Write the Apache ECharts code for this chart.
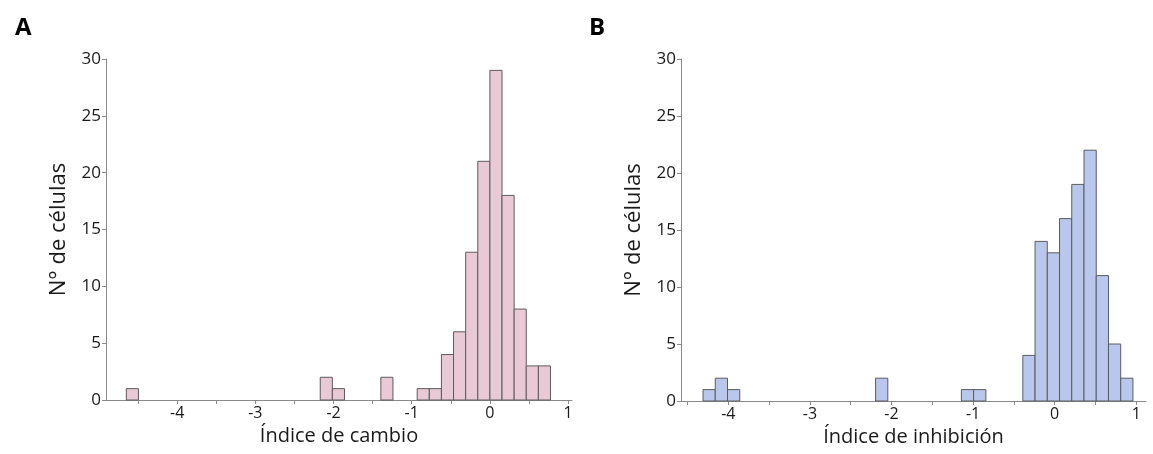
<!DOCTYPE html>
<html>
<head>
<meta charset="utf-8">
<script src="https://cdn.jsdelivr.net/npm/echarts@6/dist/echarts.min.js"></script>
<style>
html,body{margin:0;padding:0;background:#fff;}
#chart{width:1153px;height:454px;}
</style>
</head>
<body>
<div id="chart"></div>
<script>
// Panel A: bin left edges, bin right edges, counts
const binLeftA  = [-4.65, -2.17, -2.015, -1.395, -0.93, -0.775, -0.62, -0.465, -0.31, -0.155, 0.0, 0.155, 0.31, 0.465, 0.62];
const binRightA = [-4.495, -2.015, -1.86, -1.24, -0.775, -0.62, -0.465, -0.31, -0.155, 0.0, 0.155, 0.31, 0.465, 0.62, 0.775];
const countsA   = [1, 2, 1, 2, 1, 1, 4, 6, 13, 21, 29, 18, 8, 3, 3];

// Panel B
const binLeftB  = [-4.31, -4.16, -4.01, -2.195, -1.143, -0.993, -0.39, -0.24, -0.09, 0.06, 0.21, 0.36, 0.51, 0.66, 0.81];
const binRightB = [-4.16, -4.01, -3.86, -2.045, -0.993, -0.843, -0.24, -0.09, 0.06, 0.21, 0.36, 0.51, 0.66, 0.81, 0.96];
const countsB   = [1, 2, 1, 2, 1, 1, 4, 14, 13, 16, 19, 22, 11, 5, 2];

const xLabelValues = [-4, -3, -2, -1, 0, 1];
const xTickValues  = [-4.5, -4, -3.5, -3, -2.5, -2, -1.5, -1, -0.5, 0, 0.5, 1];

const panelTitles = ['A', 'B'];
const xNames = ['Índice de cambio', 'Índice de inhibición'];
const yName = 'N° de células';

const FONT = '"Open Sans", "Noto Sans", sans-serif';
const axisColor = '#8a8a8a';
const textColor = '#1a1a1a';

function mkData(l, r, c) { return l.map((v, i) => [v, r[i], c[i]]); }

function renderBar(params, api) {
  const p0 = api.coord([api.value(0), 0]);
  const p1 = api.coord([api.value(1), api.value(2)]);
  return {
    type: 'rect',
    shape: { x: p0[0], y: p1[1], width: p1[0] - p0[0], height: p0[1] - p1[1] },
    style: api.style()
  };
}

function xAxis(idx, min, max) {
  return {
    type: 'value', gridIndex: idx, min: min, max: max,
    name: xNames[idx], nameLocation: 'middle', nameGap: 26,
    nameTextStyle: { fontSize: 20, color: textColor, fontFamily: FONT },
    axisLine: { show: true, onZero: false, lineStyle: { color: axisColor, width: 1 } },
    axisTick: { show: true, length: 4, customValues: xTickValues, lineStyle: { color: axisColor } },
    axisLabel: { customValues: xLabelValues, fontSize: 16, color: textColor, fontFamily: FONT, margin: 5 },
    splitLine: { show: false }
  };
}
function yAxis(idx) {
  return {
    type: 'value', gridIndex: idx, min: 0, max: 30, interval: 5,
    name: yName, nameLocation: 'middle', nameGap: 36, nameRotate: 90,
    nameTextStyle: { fontSize: 22, color: textColor, fontFamily: FONT },
    axisLine: { show: true, onZero: false, lineStyle: { color: axisColor, width: 1 } },
    axisTick: { show: true, length: 4, lineStyle: { color: axisColor } },
    axisLabel: { fontSize: 17, color: textColor, fontFamily: FONT, margin: 5 },
    splitLine: { show: false }
  };
}

const chart = echarts.init(document.getElementById('chart'), null, { renderer: 'canvas' });
chart.setOption({
  backgroundColor: '#ffffff',
  animation: false,
  title: [
    { text: panelTitles[0], left: 10, top: 11, textStyle: { fontSize: 24, fontWeight: 'bold', color: '#000', fontFamily: FONT } },
    { text: panelTitles[1], left: 584, top: 11, textStyle: { fontSize: 24, fontWeight: 'bold', color: '#000', fontFamily: FONT } }
  ],
  grid: [
    { left: 106, top: 59, width: 466, height: 341 },
    { left: 681, top: 59, width: 465, height: 342 }
  ],
  xAxis: [xAxis(0, -4.91, 1.05), xAxis(1, -4.58, 1.12)],
  yAxis: [yAxis(0), yAxis(1)],
  series: [
    {
      type: 'custom', xAxisIndex: 0, yAxisIndex: 0,
      data: mkData(binLeftA, binRightA, countsA),
      encode: { x: [0, 1], y: 2 },
      renderItem: renderBar,
      itemStyle: { color: '#e9c9d5', borderColor: '#5c5c5c', borderWidth: 1 }
    },
    {
      type: 'custom', xAxisIndex: 1, yAxisIndex: 1,
      data: mkData(binLeftB, binRightB, countsB),
      encode: { x: [0, 1], y: 2 },
      renderItem: renderBar,
      itemStyle: { color: '#b9c7ec', borderColor: '#5c5c5c', borderWidth: 1 }
    }
  ]
});
</script>
</body>
</html>
